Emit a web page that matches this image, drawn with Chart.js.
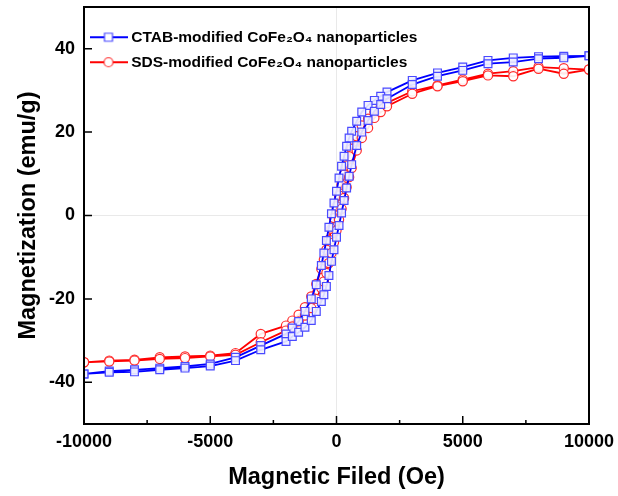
<!DOCTYPE html>
<html>
<head>
<meta charset="utf-8">
<script src="https://cdn.jsdelivr.net/npm/chart.js@4"></script>
<style>
  html, body { margin: 0; padding: 0; background: #fff; }
  #wrap { width: 618px; height: 496px; }
</style>
</head>
<body>
<div id="wrap"><canvas id="loopChart"></canvas></div>
<script>
// Campo magnetico (Oe): ramo discendente e ramo ascendente
const fieldDown = [10000, 9000, 8000, 7000, 6000, 5000, 4000, 3000, 2000, 1750, 1500, 1250, 1000, 800, 600, 500, 400, 300, 200, 100, 0,
  -100, -200, -300, -400, -500, -600, -800, -1000, -1250, -1500, -1750, -2000, -3000, -4000, -5000, -6000, -7000, -8000, -9000, -10000];
const fieldUp = [-10000, -9000, -8000, -7000, -6000, -5000, -4000, -3000, -2000, -1750, -1500, -1250, -1000, -800, -600, -500, -400, -300, -200, -100, 0,
  100, 200, 300, 400, 500, 600, 800, 1000, 1250, 1500, 1750, 2000, 3000, 4000, 5000, 6000, 7000, 8000, 9000, 10000];

// Magnetizzazione (emu/g)
const ctabDown = [38.3, 38.2, 38.1, 37.8, 37.2, 35.6, 34.2, 32.4, 29.6, 28.6, 27.6, 26.4, 24.8, 22.6, 20.2, 18.6, 16.6, 14.2, 11.8, 9.0, 5.8,
  3.0, 0.4, -2.8, -6.0, -9.0, -12.0, -16.6, -20.0, -23.0, -25.4, -27.0, -28.4, -31.2, -34.0, -35.6, -36.2, -36.6, -37.0, -37.3, -38.0];
const ctabUp = [-38.0, -37.6, -37.5, -37.0, -36.6, -36.1, -34.8, -32.2, -30.2, -29.0, -28.0, -26.8, -25.2, -23.0, -20.6, -19.0, -17.0, -14.4, -11.0, -8.2, -5.2,
  -2.4, 0.6, 3.6, 6.6, 9.4, 12.2, 16.8, 20.0, 22.8, 25.0, 26.6, 28.0, 31.4, 33.4, 34.8, 36.4, 36.8, 37.6, 37.8, 38.3];
const sdsDown = [35.0, 35.3, 35.6, 34.6, 34.0, 32.6, 31.2, 29.8, 27.0, 26.0, 24.8, 23.2, 21.6, 19.0, 16.0, 14.2, 12.0, 9.8, 7.4, 4.8, 2.2,
  -0.6, -3.2, -5.8, -8.2, -10.6, -12.8, -16.4, -19.4, -22.0, -23.8, -25.2, -26.4, -28.4, -33.0, -33.6, -33.8, -34.0, -34.6, -34.8, -35.2];
const sdsUp = [-35.2, -35.0, -34.8, -34.4, -34.2, -33.8, -33.4, -30.4, -27.6, -26.6, -25.4, -24.0, -22.2, -20.0, -17.4, -15.8, -13.8, -11.4, -9.0, -6.4, -3.6,
  -1.0, 1.6, 4.2, 6.8, 9.2, 11.4, 15.6, 18.6, 21.0, 23.4, 24.8, 26.2, 29.2, 31.0, 32.2, 33.6, 33.4, 35.2, 34.0, 35.0];

const seriesLabels = ["CTAB-modified CoFe\u2082O\u2084 nanoparticles", "SDS-modified CoFe\u2082O\u2084 nanoparticles"];
const xTicks = [-10000, -5000, 0, 5000, 10000];
const xMinorTicks = [-7500, -2500, 2500, 7500];
const yTicks = [-40, -20, 0, 20, 40];

const FONT = "'Liberation Sans', Arial, Helvetica, sans-serif";

// unisce i due rami in un unico anello
function loop(hA, mA, hB, mB) {
  return hA.map((h, i) => ({ x: h, y: mA[i] })).concat(hB.map((h, i) => ({ x: h, y: mB[i] })));
}

// piccola immagine linea + simbolo per la legenda
function legendIcon(color, markerColor, shape) {
  const c = document.createElement('canvas');
  c.width = 38; c.height = 14;
  const g = c.getContext('2d');
  g.strokeStyle = color; g.lineWidth = 1.8;
  g.beginPath(); g.moveTo(0, 7); g.lineTo(38, 7); g.stroke();
  g.fillStyle = '#fff'; g.strokeStyle = markerColor; g.lineWidth = 1.2;
  g.beginPath();
  if (shape === 'rect') g.rect(15, 3, 8, 8); else g.arc(19, 7, 4.5, 0, Math.PI * 2);
  g.fill(); g.stroke();
  return c;
}
const icons = [legendIcon('#0000ff', '#4a4aff', 'rect'), legendIcon('#ff0000', '#ff2a2a', 'circle')];

// bordo del riquadro e tacche rivolte verso l'interno
const frameTicks = {
  id: 'frameTicks',
  afterDraw(chart) {
    const { ctx, chartArea: a, scales } = chart;
    ctx.save();
    ctx.strokeStyle = '#000';
    ctx.lineWidth = 2;
    ctx.strokeRect(a.left, a.top, a.right - a.left, a.bottom - a.top);
    ctx.lineWidth = 1.5;
    ctx.beginPath();
    xTicks.forEach(v => { const px = scales.x.getPixelForValue(v); ctx.moveTo(px, a.bottom); ctx.lineTo(px, a.bottom - 8); });
    xMinorTicks.forEach(v => { const px = scales.x.getPixelForValue(v); ctx.moveTo(px, a.bottom); ctx.lineTo(px, a.bottom - 4); });
    yTicks.forEach(v => { const py = scales.y.getPixelForValue(v); ctx.moveTo(a.left, py); ctx.lineTo(a.left + 8, py); });
    ctx.stroke();
    ctx.restore();
  }
};

const ctx = document.getElementById('loopChart').getContext('2d');
new Chart(ctx, {
  type: 'scatter',
  data: {
    datasets: [
      {
        label: seriesLabels[0],
        data: loop(fieldDown, ctabDown, fieldUp, ctabUp),
        showLine: true,
        borderColor: '#0000ff',
        borderWidth: 1.8,
        pointStyle: 'rect',
        pointRadius: 5.5,
        pointBorderColor: '#4a4aff',
        pointBackgroundColor: 'rgba(240,240,255,0.9)',
        pointBorderWidth: 1.2
      },
      {
        label: seriesLabels[1],
        data: loop(fieldDown, sdsDown, fieldUp, sdsUp),
        showLine: true,
        borderColor: '#ff0000',
        borderWidth: 1.8,
        pointStyle: 'circle',
        pointRadius: 4.6,
        pointBorderColor: '#ff2a2a',
        pointBackgroundColor: 'rgba(255,255,255,0.9)',
        pointBorderWidth: 1.2
      }
    ]
  },
  options: {
    responsive: true,
    maintainAspectRatio: false,
    animation: false,
    layout: { padding: { left: 8, right: 29, top: 7, bottom: 0 } },
    plugins: {
      tooltip: { enabled: false },
      legend: {
        position: 'chartArea',
        align: 'start',
        title: { display: true, text: '', font: { size: 10 }, padding: { top: 8, bottom: 0 } },
        labels: {
          usePointStyle: true,
          pointStyleWidth: 30,
          padding: 9.5,
          color: '#000',
          font: { family: FONT, size: 15.5, weight: 'bold' },
          generateLabels(chart) {
            const items = Chart.defaults.plugins.legend.labels.generateLabels(chart);
            items.forEach((it, i) => { it.pointStyle = icons[i]; });
            return items;
          }
        }
      }
    },
    scales: {
      x: {
        type: 'linear',
        min: -10000,
        max: 10000,
        afterBuildTicks: s => { s.ticks = xTicks.map(v => ({ value: v })); },
        afterFit: s => { s.height = 72; s.paddingLeft = 0; s.paddingRight = 0; },
        grid: { drawTicks: false, color: c => (c.tick && c.tick.value === 0 ? '#e9e9e9' : 'rgba(0,0,0,0)') },
        border: { display: false },
        ticks: { color: '#000', padding: 7, maxRotation: 0, callback: v => String(v),
                 font: { family: FONT, size: 18, weight: 'bold' } },
        title: { display: true, text: 'Magnetic Filed (Oe)', color: '#000', padding: { top: 4, bottom: 4 },
                 font: { family: FONT, size: 23.5, weight: 'bold' } }
      },
      y: {
        min: -50,
        max: 50,
        afterBuildTicks: s => { s.ticks = yTicks.map(v => ({ value: v })); },
        afterFit: s => { s.width = 76; s.paddingTop = 0; s.paddingBottom = 0; },
        grid: { drawTicks: false, color: c => (c.tick && c.tick.value === 0 ? '#e9e9e9' : 'rgba(0,0,0,0)') },
        border: { display: false },
        ticks: { color: '#000', padding: 9, callback: v => String(v),
                 font: { family: FONT, size: 18, weight: 'bold' } },
        title: { display: true, text: 'Magnetization (emu/g)', color: '#000', padding: { top: 6, bottom: 4 },
                 font: { family: FONT, size: 23.5, weight: 'bold' } }
      }
    }
  },
  plugins: [frameTicks]
});
</script>
</body>
</html>
